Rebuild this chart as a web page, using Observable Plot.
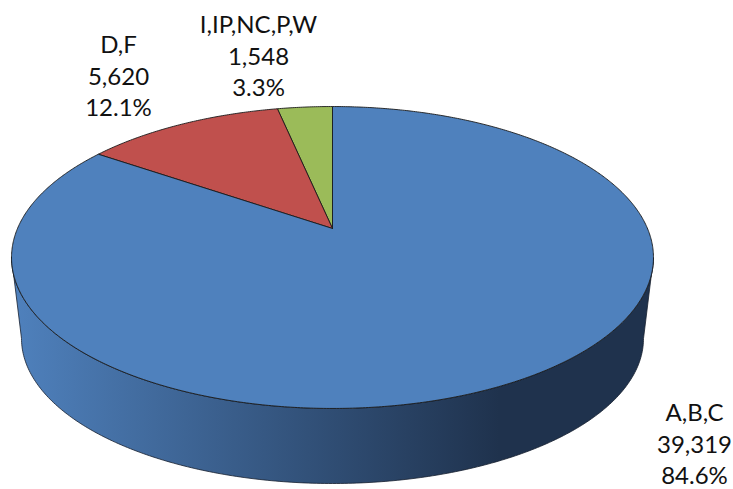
<!DOCTYPE html>
<html>
<head>
<meta charset="utf-8">
<script src="https://cdn.jsdelivr.net/npm/d3@7"></script>
<script src="https://cdn.jsdelivr.net/npm/@observablehq/plot@0.6"></script>
<style>
  html, body { margin: 0; padding: 0; background: #fff; }
  svg { display: block; }
</style>
</head>
<body>
<div id="chart"></div>
<script>
// Data, in drawing order (from the top of the pie, running to the left)
const categories = ["I,IP,NC,P,W", "D,F", "A,B,C"];
const values = [1548, 5620, 39319];
const percents = ["3.3%", "12.1%", "84.6%"];

// Styles and label anchors
const sliceColors = ["#9bbb59", "#c0504d", "#4f81bd"];
const labelX = [258, 118, 694];
const labelY = [54, 74, 442];

const W = 733, H = 489;
const total = d3.sum(values);

// Perspective projection of the pie's top disc
const cx = 332, apexY = 228, A = 315, B = 145.4, c = 0.192;
const project = (t) => {
  const u = -Math.sin(t), v = -Math.cos(t), d = 1 - c * v;
  return { x: cx + A * u / d, y: apexY + B * v / d };
};

// Slices: apex, sampled rim, apex
let acc = 0;
const slices = values.map((val) => {
  const t0 = acc / total * 2 * Math.PI;
  acc += val;
  const t1 = acc / total * 2 * Math.PI;
  const n = Math.max(8, Math.ceil((t1 - t0) * 120));
  const pts = [{ x: cx, y: apexY }];
  for (let i = 0; i <= n; i++) pts.push(project(t0 + (t1 - t0) * i / n));
  pts.push({ x: cx, y: apexY });
  return pts;
});

// Side wall: front half of the top rim, then back along the lower rim
const topRim = { cy: 257, rx: 321, ry: 151 };
const lowRim = { cy: 338, rx: 311, ry: 145 };
const wall = [];
for (let i = 0; i <= 240; i++) {
  const a = Math.PI * i / 240;
  wall.push({ x: cx - topRim.rx * Math.cos(a), y: topRim.cy + topRim.ry * Math.sin(a) });
}
for (let i = 240; i >= 0; i--) {
  const a = Math.PI * i / 240;
  wall.push({ x: cx - lowRim.rx * Math.cos(a), y: lowRim.cy + lowRim.ry * Math.sin(a) });
}
wall.push(wall[0]);

const labels = categories.map((name, i) => ({
  text: `${name}\n${d3.format(",")(values[i])}\n${percents[i]}`,
  x: labelX[i],
  y: labelY[i]
}));

const gradient = () => {
  const ns = "http://www.w3.org/2000/svg";
  const defs = document.createElementNS(ns, "defs");
  const g = document.createElementNS(ns, "linearGradient");
  g.setAttribute("id", "wallFill");
  g.setAttribute("x1", "0"); g.setAttribute("x2", "1");
  g.setAttribute("y1", "0"); g.setAttribute("y2", "0");
  [["0%", "#4f81bd"], ["76%", "#1f324d"], ["100%", "#1f324d"]].forEach(([o, col]) => {
    const s = document.createElementNS(ns, "stop");
    s.setAttribute("offset", o);
    s.setAttribute("stop-color", col);
    g.appendChild(s);
  });
  defs.appendChild(g);
  return defs;
};

const chart = Plot.plot({
  width: W,
  height: H,
  margin: 0,
  style: { background: "#fff", overflow: "visible" },
  x: { domain: [0, W], range: [0, W], axis: null },
  y: { domain: [0, H], range: [0, H], axis: null },
  marks: [
    gradient,
    Plot.line(wall, { x: "x", y: "y", fill: "url(#wallFill)", stroke: "#16202e", strokeWidth: 0.8, curve: "linear" }),
    ...slices.map((pts, i) =>
      Plot.line(pts, { x: "x", y: "y", fill: sliceColors[i], stroke: "#1a1a1a", strokeWidth: 0.9, curve: "linear" })
    ),
    Plot.text(labels, {
      x: "x", y: "y", text: "text",
      fontFamily: "Lato, 'Open Sans', sans-serif",
      fontSize: 24, lineHeight: 1.32, fill: "#111", textAnchor: "middle"
    })
  ]
});
document.getElementById("chart").appendChild(chart);
</script>
</body>
</html>
